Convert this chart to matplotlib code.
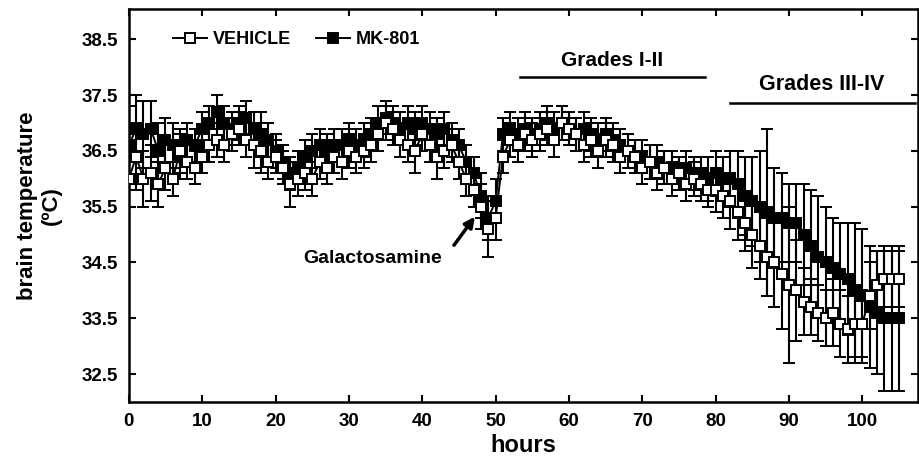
import numpy as np
import matplotlib
matplotlib.use("Agg")
import matplotlib.pyplot as plt
from matplotlib.lines import Line2D

# --- Data (hourly means +/- SEM) ---
hours = list(range(106))

vehicle = [
    36.0, 36.4, 36.0, 36.1, 35.9, 36.2, 36.0, 36.5, 36.3, 36.2,
    36.4, 36.6, 36.7, 36.6, 36.8, 36.9, 36.7, 36.6, 36.5, 36.3,
    36.4, 36.2, 35.9, 36.0, 36.1, 36.0, 36.3, 36.2, 36.4, 36.3,
    36.5, 36.4, 36.5, 36.6, 36.8, 37.0, 36.9, 36.7, 36.6, 36.5,
    36.8, 36.6, 36.4, 36.5, 36.6, 36.3, 36.0, 35.8, 35.5, 35.1,
    35.3, 36.4, 36.7, 36.6, 36.8, 36.7, 36.8, 36.9, 36.7, 37.0,
    36.9, 36.8, 36.6, 36.7, 36.5, 36.7, 36.6, 36.4, 36.5, 36.4,
    36.2, 36.3, 36.1, 36.2, 36.0, 36.1, 35.9, 36.0, 35.9, 35.8,
    35.8, 35.7, 35.6, 35.4, 35.2, 35.0, 34.8, 34.6, 34.5, 34.3,
    34.1, 34.0, 33.8, 33.7, 33.6, 33.5, 33.6, 33.4, 33.3, 33.4,
    33.4, 33.9, 34.1, 34.2, 34.2, 34.2,
]
vehicle_err = [
    0.5, 0.6, 0.5, 0.5, 0.4, 0.4, 0.3, 0.4, 0.3, 0.3,
    0.3, 0.3, 0.3, 0.3, 0.3, 0.3, 0.3, 0.4, 0.4, 0.3,
    0.3, 0.3, 0.4, 0.3, 0.3, 0.3, 0.3, 0.3, 0.3, 0.3,
    0.3, 0.3, 0.3, 0.3, 0.3, 0.3, 0.3, 0.3, 0.3, 0.4,
    0.3, 0.3, 0.4, 0.3, 0.3, 0.3, 0.3, 0.3, 0.4, 0.5,
    0.4, 0.3, 0.3, 0.3, 0.3, 0.3, 0.3, 0.3, 0.3, 0.3,
    0.3, 0.3, 0.3, 0.3, 0.3, 0.3, 0.3, 0.3, 0.3, 0.3,
    0.3, 0.3, 0.3, 0.3, 0.3, 0.3, 0.3, 0.3, 0.3, 0.3,
    0.4, 0.4, 0.5, 0.5, 0.5, 0.6, 0.6, 0.7, 0.8, 1.0,
    1.4, 0.9, 0.6, 0.5, 0.5, 0.5, 0.6, 0.6, 0.6, 0.7,
    0.6, 0.6, 0.6, 0.5, 0.5, 0.5,
]

mk801 = [
    36.6, 36.9, 36.8, 36.9, 36.5, 36.7, 36.6, 36.4, 36.7, 36.6,
    36.9, 37.0, 37.2, 37.0, 36.9, 37.0, 37.1, 36.9, 36.8, 36.7,
    36.5, 36.3, 36.1, 36.2, 36.4, 36.5, 36.6, 36.5, 36.6, 36.6,
    36.7, 36.6, 36.7, 36.8, 37.0, 37.1, 37.0, 36.9, 37.0, 36.9,
    37.0, 36.9, 36.8, 36.9, 36.7, 36.6, 36.3, 36.1, 35.7, 35.3,
    35.6, 36.8, 36.9, 36.8, 36.9, 36.8, 36.9, 37.0, 36.9, 37.0,
    36.9, 36.8, 36.9, 36.8, 36.7, 36.8, 36.7, 36.6, 36.5, 36.4,
    36.4, 36.3, 36.3, 36.2, 36.2, 36.1, 36.2, 36.1, 36.1, 36.0,
    36.1, 36.0, 36.0, 35.9, 35.7, 35.6, 35.5, 35.4, 35.3, 35.3,
    35.2, 35.2, 35.0, 34.8, 34.6, 34.5, 34.4, 34.3, 34.2, 34.0,
    33.9, 33.7, 33.6, 33.5, 33.5, 33.5,
]
mk801_err = [
    0.7, 0.6, 0.6, 0.5, 0.5, 0.4, 0.4, 0.4, 0.3, 0.3,
    0.3, 0.3, 0.3, 0.3, 0.3, 0.3, 0.3, 0.3, 0.4, 0.3,
    0.3, 0.3, 0.3, 0.3, 0.3, 0.3, 0.3, 0.3, 0.3, 0.3,
    0.3, 0.3, 0.3, 0.3, 0.3, 0.3, 0.3, 0.3, 0.3, 0.3,
    0.3, 0.3, 0.3, 0.3, 0.3, 0.3, 0.3, 0.3, 0.4, 0.4,
    0.4, 0.3, 0.3, 0.3, 0.3, 0.3, 0.3, 0.3, 0.3, 0.3,
    0.3, 0.3, 0.3, 0.3, 0.3, 0.3, 0.3, 0.3, 0.3, 0.3,
    0.3, 0.3, 0.3, 0.3, 0.3, 0.3, 0.3, 0.3, 0.3, 0.4,
    0.4, 0.4, 0.5, 0.6, 0.7, 0.8, 1.0, 1.5, 0.9, 0.8,
    0.7, 0.7, 0.9, 1.0, 1.1, 1.0, 0.9, 0.9, 1.0, 1.2,
    1.2, 1.1, 1.1, 1.3, 1.3, 1.3,
]

# --- Style ---
plt.rcParams.update({
    "font.family": ["Liberation Sans", "DejaVu Sans"],
    "font.weight": "bold",
    "axes.linewidth": 1.8,
})

fig = plt.figure(figsize=(9.2, 4.63), dpi=100)
ax = fig.add_axes([0.140, 0.132, 0.858, 0.849])

common = dict(color="black", lw=1.4, marker="s", ms=6.5, mew=1.4,
              elinewidth=1.5, capsize=4, capthick=1.5)
ax.errorbar(hours, vehicle, yerr=vehicle_err, mfc="white", mec="black", zorder=3, **common)
ax.errorbar(hours, mk801, yerr=mk801_err, mfc="black", mec="black", zorder=2, **common)

ax.set_xlim(0, 107.6)
ax.set_ylim(32, 39.05)
ax.set_xticks(range(0, 101, 10))
ax.set_yticks(np.arange(32.5, 38.6, 1.0))
ax.set_yticklabels([f"{v:.1f}" for v in np.arange(32.5, 38.6, 1.0)])
ax.tick_params(direction="in", length=5, width=1.5, top=True, right=True,
               labelsize=13.5, pad=8)
for lab in ax.get_xticklabels() + ax.get_yticklabels():
    lab.set_fontweight("bold")

ax.set_xlabel("hours", fontsize=17, fontweight="bold", labelpad=3)
ax.set_ylabel("brain temperature\n(ºC)", fontsize=16, fontweight="bold", labelpad=14,
              linespacing=1.2)

# stage bars
ax.plot([53.3, 78.6], [37.82, 37.82], color="black", lw=1.8)
ax.text(65.9, 37.95, "Grades I-II", ha="center", va="bottom", fontsize=15, fontweight="bold")
ax.plot([81.9, 107.2], [37.36, 37.36], color="black", lw=1.8)
ax.text(94.4, 37.5, "Grades III-IV", ha="center", va="bottom", fontsize=15.5, fontweight="bold")

# galactosamine arrow
ax.annotate("", xy=(47.4, 35.36), xytext=(44.1, 34.77),
            arrowprops=dict(arrowstyle="-|>", color="black", lw=2.5, mutation_scale=15))
ax.text(33.2, 34.57, "Galactosamine", ha="center", va="center", fontsize=14, fontweight="bold")

handles = [
    Line2D([], [], color="black", lw=1.4, marker="s", ms=6.5, mfc="white", mec="black", mew=1.4),
    Line2D([], [], color="black", lw=1.4, marker="s", ms=6.5, mfc="black", mec="black", mew=1.4),
]
ax.legend(handles, ["VEHICLE", "MK-801"], loc="center left", bbox_to_anchor=(0.035, 0.921),
          ncol=2, frameon=False, handlelength=1.9, handletextpad=0.3, columnspacing=1.4,
          prop={"weight": "bold", "size": 13})

fig.savefig("out.png", dpi=100)
